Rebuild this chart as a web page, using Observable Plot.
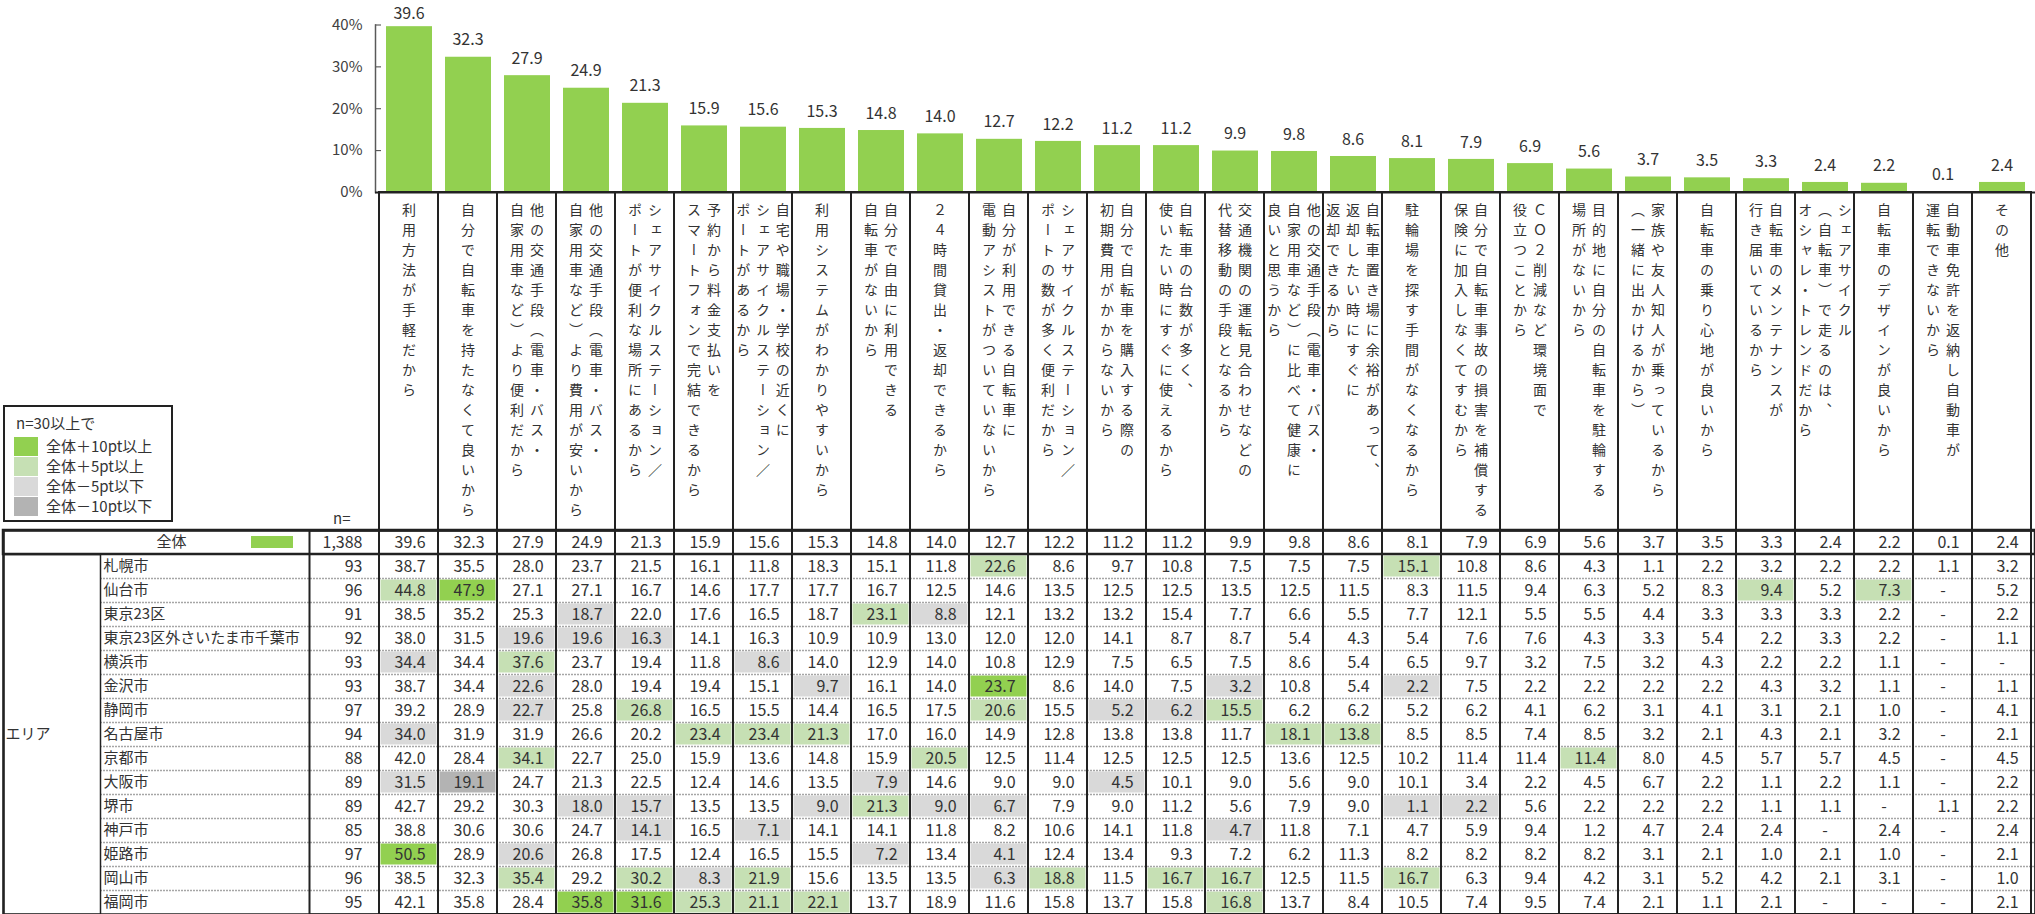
<!DOCTYPE html>
<html><head><meta charset="utf-8">
<script src="https://cdn.jsdelivr.net/npm/d3@7"></script>
<script src="https://cdn.jsdelivr.net/npm/@observablehq/plot@0.6"></script>
<style>
body{margin:0;background:#fff;font-family:"Noto Sans CJK JP",sans-serif;color:#333;}
#root{position:relative;width:2035px;height:914px;overflow:hidden;background:#fff;}
#root .part{position:absolute;left:0;}
#partB text{writing-mode:vertical-rl;letter-spacing:6px;}
.lg{position:absolute;font-size:15px;line-height:20px;white-space:nowrap;color:#333;}
.sw{position:absolute;width:24px;height:19px;}
</style></head><body><div id="root"></div>
<script>
// ---- data ----
const labelLines = [
  ["利用方法が手軽だから"],
  ["自分で自転車を持たなくて良いから"],
  ["他の交通手段（電車・バス・", "自家用車など）より便利だから"],
  ["他の交通手段（電車・バス・", "自家用車など）より費用が安いから"],
  ["シェアサイクルステーション／", "ポートが便利な場所にあるから"],
  ["予約から料金支払いを", "スマートフォンで完結できるから"],
  ["自宅や職場・学校の近くに", "シェアサイクルステーション／", "ポートがあるから"],
  ["利用システムがわかりやすいから"],
  ["自分で自由に利用できる", "自転車がないから"],
  ["２４時間貸出・返却できるから"],
  ["自分が利用できる自転車に", "電動アシストがついていないから"],
  ["シェアサイクルステーション／", "ポートの数が多く便利だから"],
  ["自分で自転車を購入する際の", "初期費用がかからないから"],
  ["自転車の台数が多く、", "使いたい時にすぐに使えるから"],
  ["交通機関の運転見合わせなどの", "代替移動の手段となるから"],
  ["他の交通手段（電車・バス・", "自家用車など）に比べて健康に", "良いと思うから"],
  ["自転車置き場に余裕があって、", "返却したい時にすぐに", "返却できるから"],
  ["駐輪場を探す手間がなくなるから"],
  ["自分で自転車事故の損害を補償する", "保険に加入しなくてすむから"],
  ["ＣＯ２削減など環境面で", "役立つことから"],
  ["目的地に自分の自転車を駐輪する", "場所がないから"],
  ["家族や友人知人が乗っているから", "（一緒に出かけるから）"],
  ["自転車の乗り心地が良いから"],
  ["自転車のメンテナンスが", "行き届いているから"],
  ["シェアサイクル", "（自転車）で走るのは、", "オシャレ・トレンドだから"],
  ["自転車のデザインが良いから"],
  ["自動車免許を返納し自動車が", "運転できないから"],
  ["その他"]
];
const totalLabel = "全体";
const totalN = 1388;
const totals = [39.6,32.3,27.9,24.9,21.3,15.9,15.6,15.3,14.8,14.0,12.7,12.2,11.2,11.2,9.9,9.8,8.6,8.1,7.9,6.9,5.6,3.7,3.5,3.3,2.4,2.2,0.1,2.4];
const yTicks = [0, 10, 20, 30, 40];
const areaLabel = "エリア";
const cities = ["札幌市","仙台市","東京23区","東京23区外さいたま市千葉市","横浜市","金沢市","静岡市","名古屋市","京都市","大阪市","堺市","神戸市","姫路市","岡山市","福岡市"];
const cityN = [93,96,91,92,93,93,97,94,88,89,89,85,97,96,95];
const sapporo  = [38.7,35.5,28.0,23.7,21.5,16.1,11.8,18.3,15.1,11.8,22.6,8.6,9.7,10.8,7.5,7.5,7.5,15.1,10.8,8.6,4.3,1.1,2.2,3.2,2.2,2.2,1.1,3.2];
const sendai   = [44.8,47.9,27.1,27.1,16.7,14.6,17.7,17.7,16.7,12.5,14.6,13.5,12.5,12.5,13.5,12.5,11.5,8.3,11.5,9.4,6.3,5.2,8.3,9.4,5.2,7.3,null,5.2];
const tokyo23  = [38.5,35.2,25.3,18.7,22.0,17.6,16.5,18.7,23.1,8.8,12.1,13.2,13.2,15.4,7.7,6.6,5.5,7.7,12.1,5.5,5.5,4.4,3.3,3.3,3.3,2.2,null,2.2];
const tokyoOut = [38.0,31.5,19.6,19.6,16.3,14.1,16.3,10.9,10.9,13.0,12.0,12.0,14.1,8.7,8.7,5.4,4.3,5.4,7.6,7.6,4.3,3.3,5.4,2.2,3.3,2.2,null,1.1];
const yokohama = [34.4,34.4,37.6,23.7,19.4,11.8,8.6,14.0,12.9,14.0,10.8,12.9,7.5,6.5,7.5,8.6,5.4,6.5,9.7,3.2,7.5,3.2,4.3,2.2,2.2,1.1,null,null];
const kanazawa = [38.7,34.4,22.6,28.0,19.4,19.4,15.1,9.7,16.1,14.0,23.7,8.6,14.0,7.5,3.2,10.8,5.4,2.2,7.5,2.2,2.2,2.2,2.2,4.3,3.2,1.1,null,1.1];
const shizuoka = [39.2,28.9,22.7,25.8,26.8,16.5,15.5,14.4,16.5,17.5,20.6,15.5,5.2,6.2,15.5,6.2,6.2,5.2,6.2,4.1,6.2,3.1,4.1,3.1,2.1,1.0,null,4.1];
const nagoya   = [34.0,31.9,31.9,26.6,20.2,23.4,23.4,21.3,17.0,16.0,14.9,12.8,13.8,13.8,11.7,18.1,13.8,8.5,8.5,7.4,8.5,3.2,2.1,4.3,2.1,3.2,null,2.1];
const kyoto    = [42.0,28.4,34.1,22.7,25.0,15.9,13.6,14.8,15.9,20.5,12.5,11.4,12.5,12.5,12.5,13.6,12.5,10.2,11.4,11.4,11.4,8.0,4.5,5.7,5.7,4.5,null,4.5];
const osaka    = [31.5,19.1,24.7,21.3,22.5,12.4,14.6,13.5,7.9,14.6,9.0,9.0,4.5,10.1,9.0,5.6,9.0,10.1,3.4,2.2,4.5,6.7,2.2,1.1,2.2,1.1,null,2.2];
const sakai    = [42.7,29.2,30.3,18.0,15.7,13.5,13.5,9.0,21.3,9.0,6.7,7.9,9.0,11.2,5.6,7.9,9.0,1.1,2.2,5.6,2.2,2.2,2.2,1.1,1.1,null,1.1,2.2];
const kobe     = [38.8,30.6,30.6,24.7,14.1,16.5,7.1,14.1,14.1,11.8,8.2,10.6,14.1,11.8,4.7,11.8,7.1,4.7,5.9,9.4,1.2,4.7,2.4,2.4,null,2.4,null,2.4];
const himeji   = [50.5,28.9,20.6,26.8,17.5,12.4,16.5,15.5,7.2,13.4,4.1,12.4,13.4,9.3,7.2,6.2,11.3,8.2,8.2,8.2,8.2,3.1,2.1,1.0,2.1,1.0,null,2.1];
const okayama  = [38.5,32.3,35.4,29.2,30.2,8.3,21.9,15.6,13.5,13.5,6.3,18.8,11.5,16.7,16.7,12.5,11.5,16.7,6.3,9.4,4.2,3.1,5.2,4.2,2.1,3.1,null,1.0];
const fukuoka  = [42.1,35.8,28.4,35.8,31.6,25.3,21.1,22.1,13.7,18.9,11.6,15.8,13.7,15.8,16.8,13.7,8.4,10.5,7.4,9.5,7.4,2.1,1.1,2.1,null,null,null,2.1];
const cityValues = [sapporo,sendai,tokyo23,tokyoOut,yokohama,kanazawa,shizuoka,nagoya,kyoto,osaka,sakai,kobe,himeji,okayama,fukuoka];
const legendTitle = "n=30以上で";
const legendItems = ["全体＋10pt以上","全体＋5pt以上","全体－5pt以下","全体－10pt以下"];
const legendColors = ["#92d050","#c6e0b4","#d9d9d9","#b3b3b3"];

// ---- layout / style constants ----
const W = 2035, LEFT = 375, ROWH = 24;
const CITY_X = 100, N_X = 309, BOX_X = 3;
const FONT = "'Noto Sans CJK JP', sans-serif";
const INK = "#333";
const LINE = "#222";
const YMAX = 40;

const categories = labelLines.map(l => l.join(""));
const bars = categories.map((c, i) => ({cat: c, v: totals[i]}));

function shade(v, t) {
  if (v == null) return null;
  const d = Math.round((v - t) * 10) / 10;
  if (d >= 10) return legendColors[0];
  if (d >= 5) return legendColors[1];
  if (d <= -10) return legendColors[3];
  if (d <= -5) return legendColors[2];
  return null;
}
const rows = [totalLabel, ...cities];
const cells = [];
categories.forEach((c, j) => cells.push({row: totalLabel, cat: c, v: totals[j], color: null}));
cities.forEach((city, i) => categories.forEach((c, j) => {
  const v = cityValues[i][j];
  cells.push({row: city, cat: c, v, color: shade(v, totals[j])});
}));
const nRows = [{row: totalLabel, n: totalN}, ...cities.map((c, i) => ({row: c, n: cityN[i]}))];

const baseStyle = {fontFamily: FONT, fontSize: "15px", color: INK, background: "none", overflow: "visible"};
const root = document.getElementById("root");
function place(svg, top, id) {
  const d = document.createElement("div");
  d.className = "part"; d.style.top = top + "px"; if (id) d.id = id;
  d.appendChild(svg); root.appendChild(d);
}

// ---- bar chart ----
const nearTop = d => d.v > YMAX * 0.95;
const chartA = Plot.plot({
  width: W, height: 194, marginLeft: LEFT, marginRight: 0, marginTop: 24.5, marginBottom: 2,
  x: {domain: categories, padding: 0, axis: null},
  y: {domain: [0, YMAX], axis: null},
  style: baseStyle,
  marks: [
    Plot.barY(bars, {x: "cat", y: "v", fill: "#92d050", insetLeft: 7, insetRight: 6}),
    Plot.text(bars.filter(d => !nearTop(d)), {x: "cat", y: "v", text: d => d.v.toFixed(1), dy: -17, fontSize: 16, fill: INK}),
    Plot.text(bars.filter(nearTop), {x: "cat", y: "v", text: d => d.v.toFixed(1), dy: -13, fontSize: 16, fill: INK}),
    Plot.axisY({ticks: yTicks, tickFormat: d => d + "%", label: null, tickSize: -6, tickPadding: 19, fontSize: 15, color: "#404040"}),
    Plot.frame({anchor: "left", stroke: "#595959", strokeWidth: 1.5}),
    Plot.ruleY([0], {stroke: LINE, strokeWidth: 2})
  ]
});
place(chartA, 0);

// ---- vertical category labels ----
const lineRows = labelLines.flatMap((lines, ci) =>
  lines.map((t, i) => ({cat: categories[ci], t, off: (lines.length - 1) / 2 - i})));
const offsets = Array.from(new Set(lineRows.map(d => d.off)));
const chartB = Plot.plot({
  width: W, height: 338, marginLeft: LEFT, marginRight: 0, marginTop: 0, marginBottom: 0,
  x: {domain: categories, padding: 0, axis: null},
  style: baseStyle,
  marks: [
    Plot.cell(categories, {x: d => d, stroke: LINE, strokeWidth: 2, fill: "none"}),
    ...offsets.map(o => Plot.text(lineRows.filter(d => d.off === o), {
      x: "cat", text: "t", frameAnchor: "top", textAnchor: "start", lineAnchor: "bottom",
      dx: o * 19.8, dy: 10, fontSize: 14, fill: INK
    }))
  ]
});
place(chartB, 192, "partB");

// ---- table ----
const chartC = Plot.plot({
  width: W, height: 386, marginLeft: LEFT, marginRight: 0, marginTop: 1, marginBottom: 1,
  x: {domain: categories, padding: 0, axis: null},
  y: {domain: rows, padding: 0, axis: null},
  style: baseStyle,
  marks: [
    Plot.cell(cells.filter(d => d.color), {x: "cat", y: "row", fill: "color", inset: 1.5}),
    Plot.ruleY(cities.slice(0, -1), {y: d => d, dy: ROWH / 2, insetLeft: -(LEFT - CITY_X), stroke: "#a6a6a6", strokeDasharray: "2,1", strokeWidth: 1.5}),
    Plot.cell(categories, {x: d => d, stroke: LINE, strokeWidth: 2, fill: "none"}),
    Plot.frame({insetLeft: -(LEFT - N_X), stroke: LINE, strokeWidth: 2}),
    Plot.frame({insetLeft: -(LEFT - BOX_X), insetRight: W - CITY_X, insetTop: ROWH, stroke: LINE, strokeWidth: 1.5}),
    Plot.cell([totalLabel], {y: d => d, insetLeft: -(LEFT - BOX_X), stroke: LINE, strokeWidth: 2.5, fill: "none"}),
    Plot.frame({insetLeft: -(LEFT - BOX_X), stroke: LINE, strokeWidth: 2.5}),
    Plot.cell([totalLabel], {y: d => d, fill: "#92d050", insetLeft: -(LEFT - 251), insetRight: W - 293, insetTop: 6, insetBottom: 6}),
    Plot.text([totalLabel], {y: d => d, text: d => d, frameAnchor: "left", dx: 156 - LEFT, fontSize: 15, fill: INK}),
    Plot.text(cities, {y: d => d, text: d => d, frameAnchor: "left", textAnchor: "start", dx: CITY_X + 3 - LEFT, fontSize: 15, fill: INK}),
    Plot.text([areaLabel], {y: () => cities[7], text: d => d, frameAnchor: "left", textAnchor: "start", dx: BOX_X + 2 - LEFT, fontSize: 15, fill: INK}),
    Plot.text(nRows, {y: "row", text: d => d.n.toLocaleString("en-US"), frameAnchor: "left", textAnchor: "end", dx: -13, fontSize: 16, fill: INK}),
    Plot.text(cells.filter(d => d.v != null), {x: "cat", y: "row", text: d => d.v.toFixed(1), textAnchor: "end", dx: 16.6, fontSize: 16, fill: INK}),
    Plot.text(cells.filter(d => d.v == null), {x: "cat", y: "row", text: () => "-", fontSize: 16, fill: INK})
  ]
});
place(chartC, 529);

// ---- legend (HTML) ----
const box = document.createElement("div");
box.style.cssText = "position:absolute;left:3px;top:405px;width:166px;height:113px;border:2px solid #222;";
root.appendChild(box);
function addText(txt, x, y) {
  const t = document.createElement("div"); t.className = "lg";
  t.style.left = x + "px"; t.style.top = y + "px"; t.textContent = txt; root.appendChild(t);
}
addText(legendTitle, 16, 413);
legendItems.forEach((s, i) => {
  const sw = document.createElement("div"); sw.className = "sw";
  sw.style.left = "14px"; sw.style.top = (437 + i * 20) + "px"; sw.style.background = legendColors[i];
  root.appendChild(sw);
  addText(s, 46, 436 + i * 20);
});
addText("n=", 333, 508);
</script></body></html>
